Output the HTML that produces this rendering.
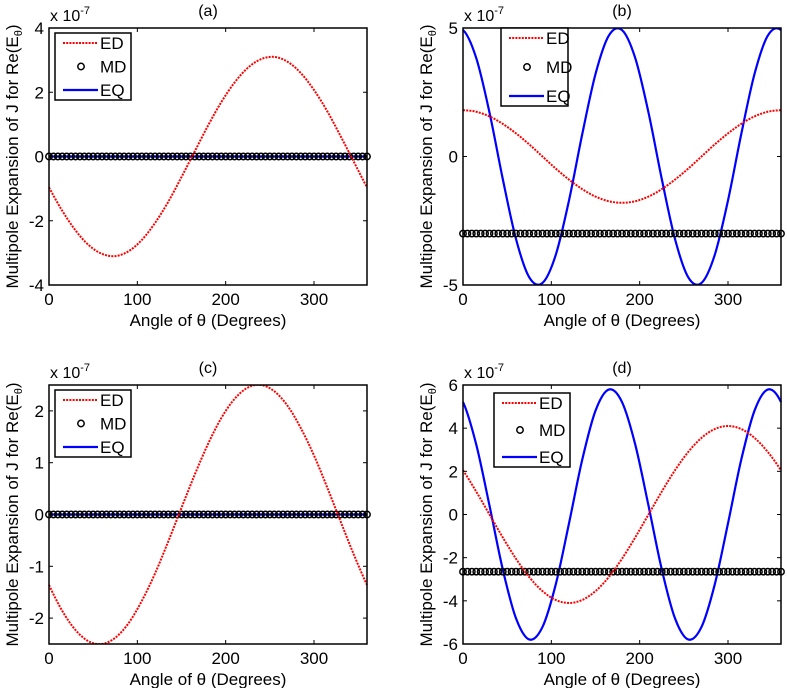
<!DOCTYPE html>
<html><head><meta charset="utf-8"><style>
html,body{margin:0;padding:0;background:#fff;}
svg{display:block;font-family:"Liberation Sans",Arial,sans-serif;}
</style></head><body>
<svg id="fig" width="787" height="688" viewBox="0 0 787 688"></svg>
<script>
// theta samples (degrees) for curves, every 15 deg
const thetaCurve = [0,15,30,45,60,75,90,105,120,135,150,165,180,195,210,225,240,255,270,285,300,315,330,345,360];
// panel (a)
const edA = [-0.96,-1.69,-2.30,-2.76,-3.03,-3.10,-2.95,-2.60,-2.07,-1.41,-0.64,0.16,0.96,1.69,2.30,2.76,3.03,3.10,2.95,2.60,2.07,1.41,0.64,-0.16,-0.96];
const eqA = [0,0,0,0,0,0,0,0,0,0,0,0,0,0,0,0,0,0,0,0,0,0,0,0,0];
const mdA = 0;
// panel (b)
const edB = [1.8,1.74,1.56,1.27,0.9,0.47,0,-0.47,-0.9,-1.27,-1.56,-1.74,-1.8,-1.74,-1.56,-1.27,-0.9,-0.47,0,0.47,0.9,1.27,1.56,1.74,1.8];
const eqB = [4.92,3.83,1.71,-0.87,-3.21,-4.70,-4.92,-3.83,-1.71,0.87,3.21,4.70,4.92,3.83,1.71,-0.87,-3.21,-4.70,-4.92,-3.83,-1.71,0.87,3.21,4.70,4.92];
const mdB = -3;
// panel (c)
const edC = [-1.36,-1.86,-2.23,-2.45,-2.50,-2.38,-2.10,-1.67,-1.14,-0.52,0.13,0.77,1.36,1.86,2.23,2.45,2.50,2.38,2.10,1.67,1.14,0.52,-0.13,-0.77,-1.36];
const eqC = [0,0,0,0,0,0,0,0,0,0,0,0,0,0,0,0,0,0,0,0,0,0,0,0,0];
const mdC = 0;
// panel (d)
const edD = [2.05,1.06,0,-1.06,-2.05,-2.90,-3.55,-3.96,-4.1,-3.96,-3.55,-2.90,-2.05,-1.06,0,1.06,2.05,2.90,3.55,3.96,4.1,3.96,3.55,2.90,2.05];
const eqD = [5.21,3.24,0.41,-2.54,-4.81,-5.79,-5.21,-3.24,-0.41,2.54,4.81,5.79,5.21,3.24,0.41,-2.54,-4.81,-5.79,-5.21,-3.24,-0.41,2.54,4.81,5.79,5.21];
const mdD = -2.65;
// MD marker angles (every 5 deg)
const thetaMD = [];
for (let t = 0; t <= 360; t += 5) thetaMD.push(t);
const xTicks = [0,100,200,300];
const yTicksA = [-4,-2,0,2,4];
const yTicksB = [-5,0,5];
const yTicksC = [-2,-1,0,1,2];
const yTicksD = [-6,-4,-2,0,2,4,6];
const titles = ["(a)","(b)","(c)","(d)"];

const NS = "http://www.w3.org/2000/svg";
const svg = document.getElementById('fig');
function mk(tag, attrs, parent){ const e=document.createElementNS(NS,tag); for(const k in attrs) e.setAttribute(k,attrs[k]); (parent||svg).appendChild(e); return e; }

// periodic Catmull-Rom (first and last sample coincide in value)
function spline(pts){
  const n=pts.length;
  const prev0=[2*pts[0][0]-pts[1][0], pts[n-2][1]];
  const nextN=[2*pts[n-1][0]-pts[n-2][0], pts[1][1]];
  const P=i=> i<0?prev0:(i>=n?nextN:pts[i]);
  let d = "M"+pts[0][0].toFixed(2)+","+pts[0][1].toFixed(2);
  for(let i=0;i<n-1;i++){
    const p0=P(i-1),p1=P(i),p2=P(i+1),p3=P(i+2);
    const c1=[p1[0]+(p2[0]-p0[0])/6,p1[1]+(p2[1]-p0[1])/6];
    const c2=[p2[0]-(p3[0]-p1[0])/6,p2[1]-(p3[1]-p1[1])/6];
    d+="C"+c1[0].toFixed(2)+","+c1[1].toFixed(2)+" "+c2[0].toFixed(2)+","+c2[1].toFixed(2)+" "+p2[0].toFixed(2)+","+p2[1].toFixed(2);
  }
  return d;
}

function panel(id, L, T, W, H, ymin, ymax, yTicks, ed, eq, md, legend, title){
  const g = mk('g',{});
  
  
  const xs = v => L + (v/360)*W;
  const ys = v => T + H - (v-ymin)/(ymax-ymin)*H;
  const clipId='clip'+id;
  const cp = mk('clipPath',{id:clipId},g); mk('rect',{x:L-4,y:T,width:W+8,height:H},cp);
  const plot = mk('g',{'clip-path':'url(#'+clipId+')'},g);
  const eqPath = mk('path',{d:spline(thetaCurve.map((t,i)=>[xs(t),ys(eq[i])])),fill:'none',stroke:'#0000ff','stroke-width':2.2},plot);
  
  
  const mdG = mk('g',{},plot);
  
  
  thetaMD.forEach(t=>{ const c=mk('circle',{cx:xs(t),cy:ys(md),r:3.2,fill:'none',stroke:'#000','stroke-width':1.5},mdG);
    
     });
  const edPath = mk('path',{d:spline(thetaCurve.map((t,i)=>[xs(t),ys(ed[i])])),fill:'none',stroke:'#ff0000','stroke-width':2,'stroke-dasharray':'2,1.2'},plot);
  
  
  const fr = mk('rect',{x:L,y:T,width:W,height:H,fill:'none',stroke:'#000','stroke-width':1.5},g);
  
  
  xTicks.forEach(v=>{
    const x=xs(v);
    mk('line',{x1:x,y1:T+H,x2:x,y2:T+H-4,stroke:'#000','stroke-width':1},g);
    mk('line',{x1:x,y1:T,x2:x,y2:T+4,stroke:'#000','stroke-width':1},g);
    const tx=mk('text',{x:x,y:T+H+20,'font-size':17,'text-anchor':'middle'},g); tx.textContent=v;
    
    
  });
  yTicks.forEach(v=>{
    const y=ys(v);
    mk('line',{x1:L,y1:y,x2:L+4,y2:y,stroke:'#000','stroke-width':1},g);
    mk('line',{x1:L+W,y1:y,x2:L+W-4,y2:y,stroke:'#000','stroke-width':1},g);
    const ty=mk('text',{x:L-5,y:y+6,'font-size':17,'text-anchor':'end'},g); ty.textContent=v;
    
    
  });
  const ex=mk('text',{x:L+1,y:T-7,'font-size':16},g);
  ex.innerHTML='x 10<tspan dy="-7" font-size="11">-7</tspan>';
  
  
  const tt=mk('text',{x:L+W/2,y:T-12,'font-size':16,'text-anchor':'middle'},g); tt.textContent=title;
  
  
  const xl=mk('text',{x:L+W/2,y:T+H+41,'font-size':17,'text-anchor':'middle'},g); xl.textContent='Angle of θ (Degrees)';
  
  
  const yl=mk('text',{x:0,y:0,'font-size':17,'text-anchor':'middle',transform:'translate('+(L-31)+','+(T+H/2)+') rotate(-90)'},g);
  yl.innerHTML='Multipole Expansion of J for Re(E<tspan dy="4" font-size="11">θ</tspan><tspan dy="-4">)</tspan>';
  
  
  const [lx,ly,lw,lh]=legend;
  const lg=mk('g',{},g);
  
  
  mk('rect',{x:lx,y:ly,width:lw,height:lh,fill:'#fff',stroke:'#000','stroke-width':1.5},lg);
  const step=(lh-20)/2;
  const e1=ly+lh/2-step, e2=ly+lh/2, e3=ly+lh/2+step;
  mk('line',{x1:lx+8,y1:e1,x2:lx+43,y2:e1,stroke:'#ff0000','stroke-width':2,'stroke-dasharray':'2,1.2'},lg);
  mk('circle',{cx:lx+26,cy:e2,r:3.2,fill:'none',stroke:'#000','stroke-width':1.5},lg);
  mk('line',{x1:lx+8,y1:e3,x2:lx+43,y2:e3,stroke:'#0000ff','stroke-width':2.2},lg);
  [['ED',e1],['MD',e2],['EQ',e3]].forEach(([s,y])=>{
    const t=mk('text',{x:lx+45,y:y+6,'font-size':17},lg); t.textContent=s;
    
    
  });
}
panel('a',49,28,318,257,-4,4,yTicksA,edA,eqA,mdA,[55,33,76,67],titles[0]);
panel('b',463,28,318,257,-5,5,yTicksB,edB,eqB,mdB,[501,28,67,78],titles[1]);
panel('c',49,385,318,259,-2.5,2.5,yTicksC,edC,eqC,mdC,[55,390,76,67],titles[2]);
panel('d',463,385,318,259,-6,6,yTicksD,edD,eqD,mdD,[494,393,76,74],titles[3]);
</script>
</body></html>
